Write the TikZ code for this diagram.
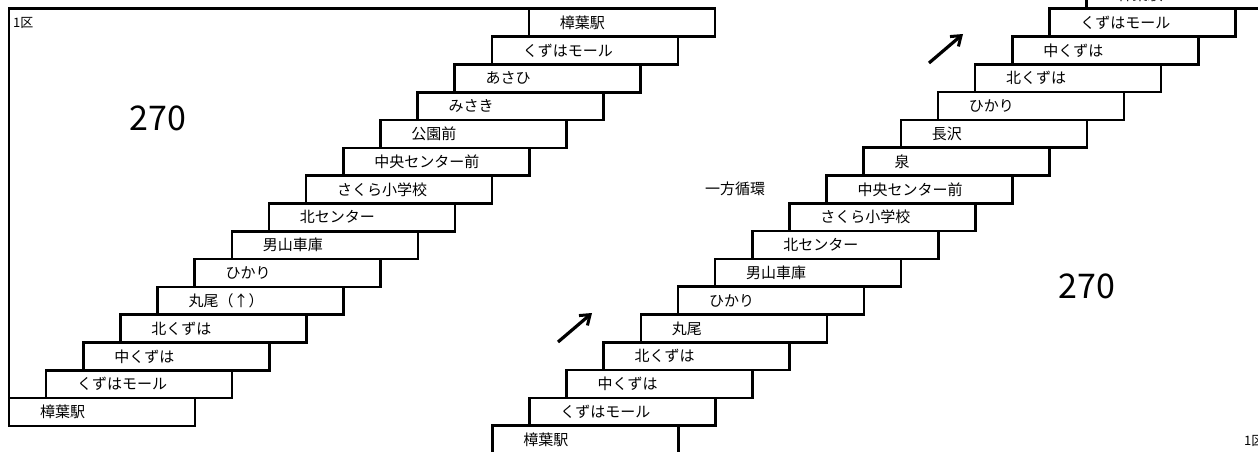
\documentclass[tikz,border=0pt]{standalone}
\usepackage{fontspec}
\setmainfont{Noto Sans CJK JP}
\usetikzlibrary{arrows.meta}
\tikzset{
  stairbox/.style={draw, line width=2.6pt, anchor=north west, outer sep=0pt, minimum height=27.8pt,
    text width=124pt, inner xsep=31pt, inner ysep=0pt, align=left, font=\fontsize{15pt}{15pt}\selectfont},
  bignum/.style={font=\fontsize{34pt}{34pt}\selectfont, inner sep=0pt},
  smalllabel/.style={font=\fontsize{13pt}{13pt}\selectfont, inner sep=0pt, anchor=west},
  midlabel/.style={font=\fontsize{15pt}{15pt}\selectfont, inner sep=0pt},
  arr/.style={line width=3.2pt, -{Straight Barb[length=9pt,width=13pt,line width=3pt]}},
  framel/.style={line width=2.6pt}
}
\begin{document}
\begin{tikzpicture}[x=1pt,y=-1pt]
\useasboundingbox (0,0) rectangle (1258,452);
\clip (0,0) rectangle (1258,452);
% left staircase
\foreach \t [count=\i from 0] in {樟葉駅,くずはモール,中くずは,北くずは,丸尾（↑）,ひかり,男山車庫,北センター,さくら小学校,中央センター前,公園前,みさき,あさひ,くずはモール,樟葉駅}{
  \pgfmathsetmacro{\xx}{9+37.14*\i}
  \pgfmathsetmacro{\yy}{398-27.8*\i}
  \node[stairbox] (L\i) at (\xx,\yy) {\t};
}
% right staircase
\foreach \t [count=\i from 0] in {樟葉駅,くずはモール,中くずは,北くずは,丸尾,ひかり,男山車庫,北センター,さくら小学校,中央センター前,泉,長沢,ひかり,北くずは,中くずは,くずはモール,樟葉駅}{
  \pgfmathsetmacro{\xx}{492.3+37.14*\i}
  \pgfmathsetmacro{\yy}{425.7-27.8*\i}
  \node[stairbox] (R\i) at (\xx,\yy) {\t};
}
% frame of left zone
\draw[framel] (L0.north west) |- (L14.north west);
% labels
\node[smalllabel] (zoneA) at (13,23) {1区};
\node[smalllabel] (zoneB) at (1244,441) {1区};
\node[bignum] (farel) at (158,118) {270};
\node[bignum] (farer) at (1087,286) {270};
\node[midlabel] (loop) at (735,189) {一方循環};
% arrows
\coordinate (a1s) at (558,342);
\coordinate (a1e) at (592,313);
\coordinate (a2s) at (929,63);
\coordinate (a2e) at (963,34);
\draw[arr] (a1s) -- (a1e);
\draw[arr] (a2s) -- (a2e);
\end{tikzpicture}
\end{document}
